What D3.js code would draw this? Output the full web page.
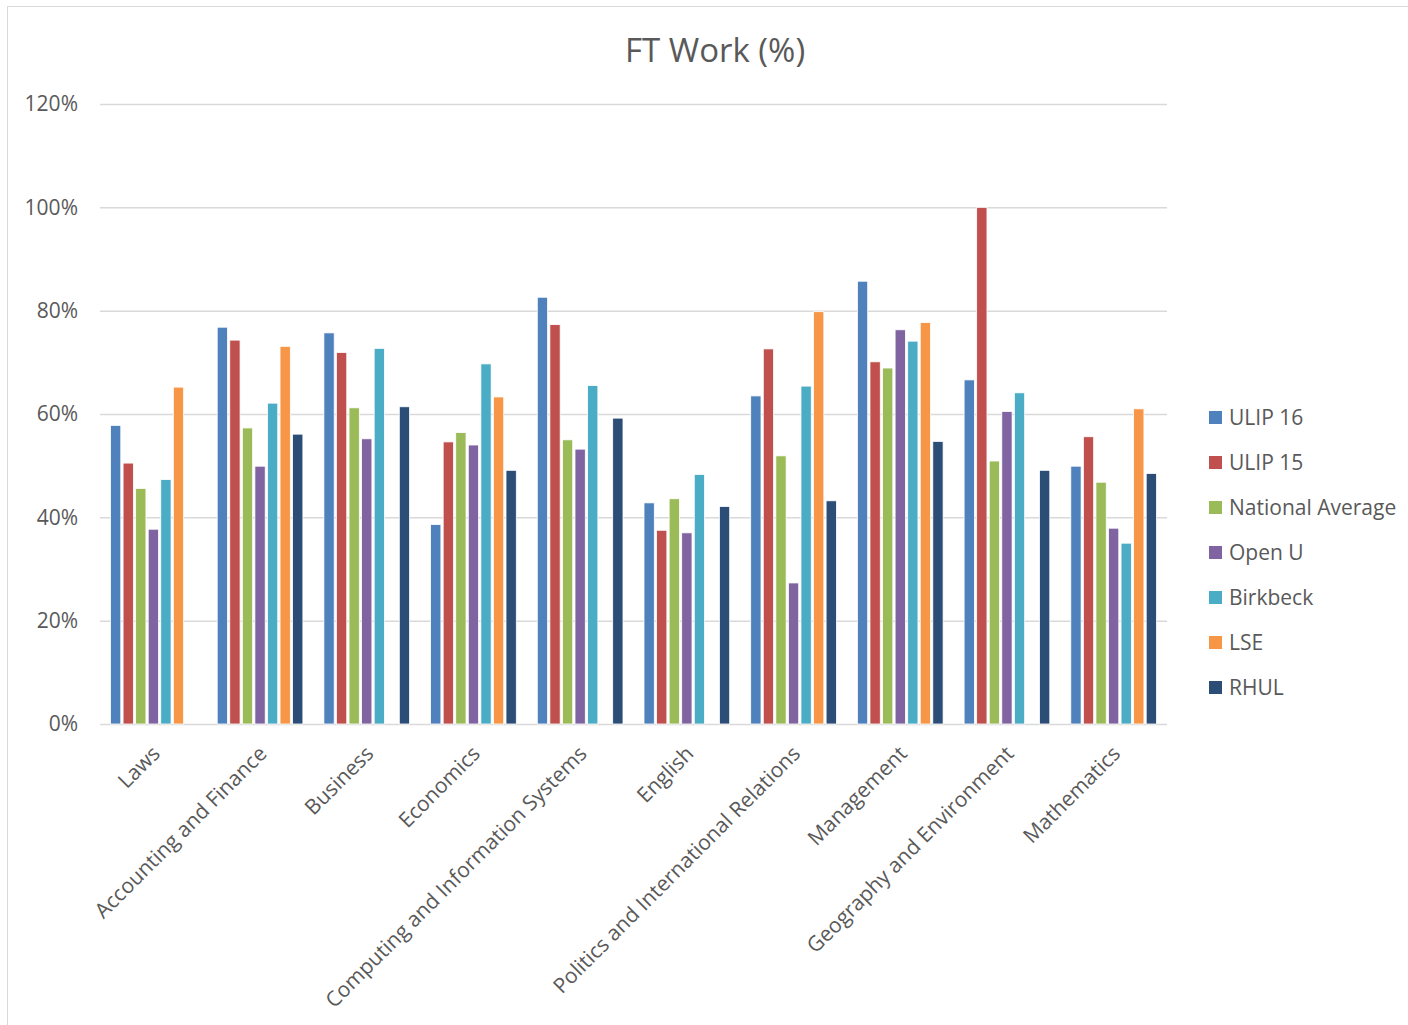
<!DOCTYPE html>
<html>
<head>
<meta charset="utf-8">
<script src="https://cdn.jsdelivr.net/npm/d3@7"></script>
<style>
  body { margin: 0; background: #fff; }
  svg { font-family: "Open Sans", "Liberation Sans", sans-serif; }
</style>
</head>
<body>
<div id="chart"></div>
<script>
// categories and series (values in %, null = no bar)
const categories = ["Laws", "Accounting and Finance", "Business", "Economics",
  "Computing and Information Systems", "English", "Politics and International Relations",
  "Management", "Geography and Environment", "Mathematics"];

const seriesNames = ["ULIP 16", "ULIP 15", "National Average", "Open U", "Birkbeck", "LSE", "RHUL"];

const ulip16   = [57.8, 76.8, 75.7, 38.6, 82.6, 42.8, 63.5, 85.7, 66.6, 49.9];
const ulip15   = [50.5, 74.3, 71.9, 54.6, 77.3, 37.5, 72.6, 70.1, 100, 55.6];
const national = [45.6, 57.3, 61.2, 56.4, 55.0, 43.6, 51.9, 68.9, 50.9, 46.8];
const openU    = [37.7, 49.9, 55.2, 54.0, 53.2, 37.0, 27.3, 76.3, 60.5, 37.9];
const birkbeck = [47.3, 62.1, 72.7, 69.7, 65.5, 48.3, 65.4, 74.1, 64.1, 35.0];
const lse      = [65.2, 73.1, null, 63.3, null, null, 79.8, 77.7, null, 61.0];
const rhul     = [null, 56.1, 61.4, 49.1, 59.2, 42.1, 43.2, 54.7, 49.1, 48.5];

const yTicks = [0, 20, 40, 60, 80, 100, 120];

const colors = ["#4F81BD", "#C0504D", "#9BBB59", "#8064A2", "#4BACC6", "#F79646", "#2C4D75"];

const seriesValues = [ulip16, ulip15, national, openU, birkbeck, lse, rhul];

const W = 1408, H = 1025;
const margin = { top: 104, right: 241, bottom: 301, left: 100 };

const svg = d3.select("#chart").append("svg")
  .attr("width", W).attr("height", H);

// chart border
svg.append("rect")
  .attr("x", 7.5).attr("y", 6.5)
  .attr("width", W + 10).attr("height", H + 10)
  .attr("fill", "#fff").attr("stroke", "#d9d9d9");

const y = d3.scaleLinear().domain([0, 120]).range([H - margin.bottom, margin.top]);
const x0 = d3.scaleBand().domain(categories).range([margin.left, W - margin.right]);
const x1 = d3.scaleBand().domain(seriesNames)
  .range([10.5, x0.bandwidth() - 10.5]).paddingInner(0.18);

// title
svg.append("text")
  .attr("x", 715).attr("y", 62)
  .attr("text-anchor", "middle")
  .attr("fill", "#595959")
  .style("font-size", "33px")
  .text("FT Work (%)");

// gridlines
svg.append("g")
  .selectAll("line")
  .data(yTicks)
  .join("line")
  .attr("x1", margin.left).attr("x2", W - margin.right)
  .attr("y1", d => y(d) + 0.5).attr("y2", d => y(d) + 0.5)
  .attr("stroke", "#d9d9d9").attr("stroke-width", 1.5);

// y axis labels
svg.append("g")
  .selectAll("text")
  .data(yTicks)
  .join("text")
  .attr("x", 78).attr("y", d => y(d))
  .attr("dy", "0.35em")
  .attr("text-anchor", "end")
  .attr("fill", "#595959")
  .style("font-size", "21px")
  .text(d => d + "%");

// bars
const groups = svg.append("g")
  .selectAll("g")
  .data(categories)
  .join("g")
  .attr("transform", d => `translate(${x0(d)},0)`);

groups.selectAll("rect")
  .data((c, ci) => seriesNames.map((s, si) => ({ s, si, v: seriesValues[si][ci] }))
    .filter(d => d.v !== null))
  .join("rect")
  .attr("x", d => x1(d.s))
  .attr("y", d => y(d.v))
  .attr("width", x1.bandwidth())
  .attr("height", d => y(0) - y(d.v))
  .attr("fill", d => colors[d.si])
  .attr("stroke", "#fff").attr("stroke-width", 0.8);

// x axis labels (rotated)
svg.append("g")
  .selectAll("text")
  .data(categories)
  .join("text")
  .attr("transform", d => `translate(${x0(d) + x0.bandwidth() / 2 + 8},${y(0) + 31}) rotate(-45)`)
  .attr("text-anchor", "end")
  .attr("fill", "#595959")
  .style("font-size", "21px")
  .text(d => d);

// legend
const legend = svg.append("g")
  .selectAll("g")
  .data(seriesNames)
  .join("g")
  .attr("transform", (d, i) => `translate(1209,${418 + i * 45})`);

legend.append("rect")
  .attr("x", 0).attr("y", -7)
  .attr("width", 13).attr("height", 13)
  .attr("fill", (d, i) => colors[i]);

legend.append("text")
  .attr("x", 20).attr("y", 0)
  .attr("dy", "0.35em")
  .attr("fill", "#595959")
  .style("font-size", "21px")
  .text(d => d);
</script>
</body>
</html>
